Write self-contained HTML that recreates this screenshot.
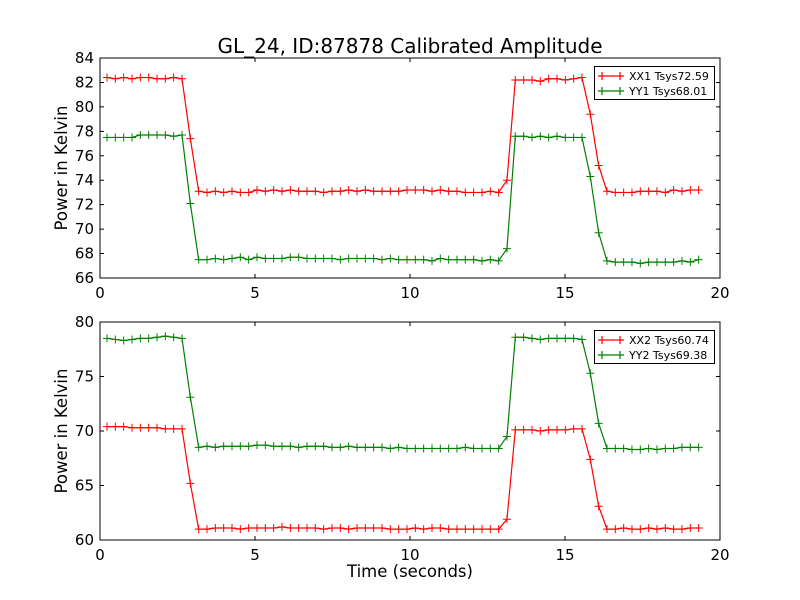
<!DOCTYPE html>
<html><head><meta charset="utf-8"><style>
body{margin:0;background:#fff}
svg{display:block;font-family:"DejaVu Sans","Liberation Sans",sans-serif}
</style></head><body>
<svg id="chart" width="800" height="600" viewBox="0 0 800 600">
<rect width="800" height="600" fill="#fff"/>
<text x="410" y="53" font-size="20" text-anchor="middle">GL_24, ID:87878 Calibrated Amplitude</text>
<text x="410" y="577" font-size="16.5" text-anchor="middle">Time (seconds)</text>
</svg>
<script>
const xTicks=[0,5,10,15,20];
const topTicks=[66,68,70,72,74,76,78,80,82,84];
const botTicks=[60,65,70,75,80];
const t0=0.226, dt=0.2688;
const xx1=[82.4,82.3,82.4,82.3,82.4,82.4,82.3,82.3,82.4,82.3,77.4,
73.1,73.0,73.1,73.0,73.1,73.0,73.0,73.2,73.1,73.2,73.1,73.2,73.1,73.1,73.1,73.0,73.1,73.1,73.2,73.1,73.2,73.1,73.1,73.1,73.1,73.2,73.2,73.2,73.1,73.2,73.1,73.1,73.0,73.0,73.0,73.1,73.0,
74.0,82.2,82.2,82.2,82.1,82.3,82.3,82.2,82.3,82.4,79.4,75.2,
73.1,73.0,73.0,73.0,73.1,73.1,73.1,73.0,73.2,73.1,73.2,73.2];
const yy1=[77.5,77.5,77.5,77.5,77.7,77.7,77.7,77.7,77.6,77.7,72.1,
67.5,67.5,67.6,67.5,67.6,67.7,67.5,67.7,67.6,67.6,67.6,67.7,67.7,67.6,67.6,67.6,67.6,67.5,67.6,67.6,67.6,67.6,67.5,67.6,67.5,67.5,67.5,67.5,67.4,67.6,67.5,67.5,67.5,67.5,67.4,67.5,67.4,
68.4,77.6,77.6,77.5,77.6,77.5,77.6,77.5,77.5,77.5,74.3,69.7,
67.4,67.3,67.3,67.3,67.2,67.3,67.3,67.3,67.3,67.4,67.3,67.5];
const xx2=[70.4,70.4,70.4,70.3,70.3,70.3,70.3,70.2,70.2,70.2,65.2,
61.0,61.0,61.1,61.1,61.1,61.0,61.1,61.1,61.1,61.1,61.2,61.1,61.1,61.1,61.1,61.0,61.1,61.1,61.0,61.1,61.1,61.1,61.1,61.0,61.0,61.0,61.1,61.0,61.1,61.1,61.0,61.0,61.0,61.0,61.0,61.0,61.0,
61.9,70.1,70.1,70.1,70.0,70.1,70.1,70.1,70.2,70.2,67.4,63.1,
61.0,61.0,61.1,61.0,61.0,61.1,61.0,61.1,61.0,61.0,61.1,61.1];
const yy2=[78.5,78.4,78.3,78.4,78.5,78.5,78.6,78.7,78.6,78.5,73.1,
68.5,68.6,68.5,68.6,68.6,68.6,68.6,68.7,68.7,68.6,68.6,68.6,68.5,68.6,68.6,68.6,68.5,68.5,68.6,68.5,68.5,68.5,68.5,68.4,68.5,68.4,68.4,68.4,68.4,68.4,68.4,68.4,68.5,68.4,68.4,68.4,68.4,
69.5,78.6,78.6,78.5,78.4,78.5,78.5,78.5,78.5,78.4,75.3,70.7,
68.4,68.4,68.4,68.3,68.3,68.4,68.3,68.4,68.4,68.5,68.5,68.5];
const legTop=["XX1 Tsys72.59","YY1 Tsys68.01"];
const legBot=["XX2 Tsys60.74","YY2 Tsys69.38"];
const NS="http://www.w3.org/2000/svg";
const svg=document.getElementById('chart');
function mk(tag,at,parent){const e=document.createElementNS(NS,tag);for(const k in at)e.setAttribute(k,at[k]);(parent||svg).appendChild(e);return e;}
const X0=100,X1=720;
function xs(v){return X0+(v-0)/20*(X1-X0);}
function panel(top,bot,ymin,ymax,yticks,s1,s2,leg,name){
  const ys=v=>bot-(v-ymin)/(ymax-ymin)*(bot-top);
  const g=mk('g',{});
  
  
  const series=[[s1,'#ff0000',leg[0]],[s2,'#008000',leg[1]]];
  series.forEach(([d,c,lab])=>{
    const pts=d.map((v,i)=>[xs(t0+dt*i),ys(v)]);
    const pl=mk('polyline',{points:pts.map(p=>p.join(',')).join(' '),fill:'none',stroke:c,'stroke-width':1.2},g);
    
    
    let dd='';pts.forEach(([x,y])=>{dd+=`M${x-4},${y}h8M${x},${y-4}v8`;});
    const mp=mk('path',{d:dd,stroke:c,'stroke-width':1},g);
    
    
  });
  mk('rect',{x:X0,y:top,width:X1-X0,height:bot-top,fill:'none',stroke:'#000','stroke-width':1},g);
  xTicks.forEach(v=>{const x=xs(v);
    mk('path',{d:`M${x},${bot}v-4M${x},${top}v4`,stroke:'#000'},g);
    const t=mk('text',{x:x,y:bot+20,'font-size':15,'text-anchor':'middle'},g);t.textContent=v;
    
    });
  yticks.forEach(v=>{const y=ys(v);
    mk('path',{d:`M${X0},${y}h4M${X1},${y}h-4`,stroke:'#000'},g);
    const t=mk('text',{x:X0-6,y:y+5,'font-size':15,'text-anchor':'end'},g);t.textContent=v;
    
    });
  const yl=mk('text',{x:0,y:0,'font-size':16.5,'text-anchor':'middle',transform:`translate(67,${(top+bot)/2}) rotate(-90)`},g);
  yl.textContent='Power in Kelvin';
  
  
  const lg=mk('g',{},g);
  
  
  mk('rect',{x:594.5,y:top+8.5,width:120,height:33,fill:'#fff',stroke:'#000'},lg);
  series.forEach(([d,c,lab],i)=>{const y=top+18+i*15;
    mk('path',{d:`M598,${y}h26M602,${y-4}v8M620,${y-4}v8`,stroke:c,'stroke-width':1.2},lg);
    const t=mk('text',{x:629,y:y+4,'font-size':11},lg);t.textContent=lab;
    
    });
}
panel(58,278,66,84,topTicks,xx1,yy1,legTop,'top-panel');
panel(322,540,60,80,botTicks,xx2,yy2,legBot,'bottom-panel');
</script>
</body></html>
